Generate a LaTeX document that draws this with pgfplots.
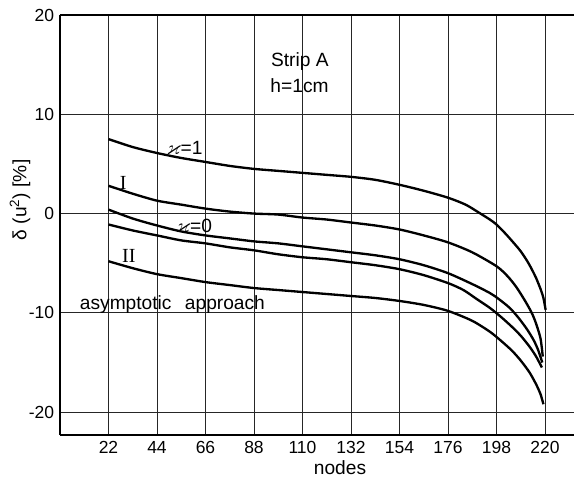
\documentclass[border=0pt]{standalone}
\usepackage{fontspec}
\usepackage{amsmath,amssymb}
\usepackage{pgfplots}
\pgfplotsset{compat=1.18}
\setmainfont{Liberation Sans}
\newfontfamily\romnum{Liberation Serif}

\begin{document}
\begin{tikzpicture}[x=1pt,y=1pt,font=\fontsize{11.5}{13}\selectfont]
  \useasboundingbox (0,0) rectangle (344.4,288.6);
  \begin{axis}[
    name=ax,
    at={(36pt,27.6pt)}, anchor=south west,
    scale only axis, width=308.7pt, height=252pt,
    xmin=0, xmax=233.4, ymin=-22.3, ymax=20,
    axis x line=box, axis y line=left,
    axis line style={-, line width=0.8pt},
    xtick={22,44,66,88,110,132,154,176,198,220},
    ytick={-20,-10,0,10,20},
    major tick length=0pt,
    grid=major,
    major grid style={black!85, line width=0.5pt},
    tick label style={font=\fontsize{10.5}{12}\selectfont},
    xticklabel style={text height=7.6pt, text depth=0pt},
    /pgf/number format/assume math mode=true,
    clip=false,
    curve/.style={black, line width=1.4pt, mark=none, smooth, tension=0.45}
  ]
    % kappa = 1
    \addplot[curve] coordinates {(22,7.5)(33,6.7)(44,6.1)(55,5.6)(66,5.2)(77,4.8)(88,4.5)
      (99,4.3)(110,4.1)(121,3.9)(132,3.7)(143,3.4)(154,2.9)(165,2.3)(176,1.6)
      (184,0.9)(190,0.1)(195,-0.6)(198,-1.1)(202,-2.0)(206,-3.0)(209,-3.8)
      (212,-4.8)(214,-5.6)(216,-6.5)(218,-7.6)(219.3,-8.5)(220.3,-9.7)};
    % I
    \addplot[curve] coordinates {(22,2.8)(33,2.0)(44,1.3)(55,0.9)(66,0.5)(77,0.2)(88,0.0)
      (99,-0.1)(110,-0.4)(121,-0.6)(132,-0.9)(143,-1.2)(154,-1.6)(165,-2.2)
      (176,-2.9)(187,-3.9)(198,-5.3)(203,-6.3)(207,-7.4)(211,-8.8)(214,-10.0)
      (216,-11.1)(218,-12.6)(219,-14.4)};
    % kappa = 0
    \addplot[curve] coordinates {(22,0.4)(33,-0.5)(44,-1.2)(55,-1.8)(66,-2.2)(77,-2.5)
      (88,-2.8)(99,-3.0)(110,-3.3)(121,-3.6)(132,-3.9)(143,-4.2)(154,-4.6)
      (165,-5.2)(176,-6.0)(187,-7.1)(195,-8.0)(199,-8.6)(204,-9.5)(208,-10.5)
      (212,-11.7)(215,-12.8)(217,-13.8)(218.8,-15.0)};
    % unlabelled curve
    \addplot[curve] coordinates {(22,-1.1)(33,-1.7)(44,-2.2)(55,-2.7)(66,-3.0)(77,-3.4)
      (88,-3.7)(99,-4.1)(110,-4.4)(121,-4.6)(132,-4.9)(143,-5.2)(154,-5.6)
      (165,-6.2)(176,-7.0)(183,-7.7)(189,-8.6)(195,-9.5)(200,-10.4)(205,-11.4)
      (209,-12.3)(213,-13.4)(216,-14.4)(218.6,-15.5)};
    % II
    \addplot[curve] coordinates {(22,-4.8)(33,-5.5)(44,-6.1)(55,-6.5)(66,-6.9)(77,-7.2)
      (88,-7.5)(99,-7.7)(110,-7.9)(121,-8.1)(132,-8.3)(143,-8.5)(154,-8.8)
      (165,-9.2)(176,-9.8)(187,-10.8)(195,-11.9)(200,-12.8)(205,-13.8)
      (209,-14.8)(213,-16.0)(216,-17.2)(218,-18.2)(219.3,-19.2)};

    \node[anchor=east] at (axis cs:124.5,15.3) {Strip A};
    \node[anchor=east] at (axis cs:124.5,12.9) {h=1cm};
    \node at (axis cs:56.5,6.6) {{\large$\boldsymbol{\varkappa}$}=1};
    \node at (axis cs:28.7,3.1) {\romnum\large I};
    \node at (axis cs:60.8,-1.2) {{\large$\boldsymbol{\varkappa}$}=0};
    \node at (axis cs:31.2,-4.3) {\romnum\large II};
    \node at (axis cs:51.0,-9.2) {asymptotic\hspace{0.7em}approach};
  \end{axis}
  \node[rotate=90] at (12,168.6) {δ (u\textsuperscript{2}) [\%]};
  \node at (204,7.8) {nodes};
\end{tikzpicture}
\end{document}
